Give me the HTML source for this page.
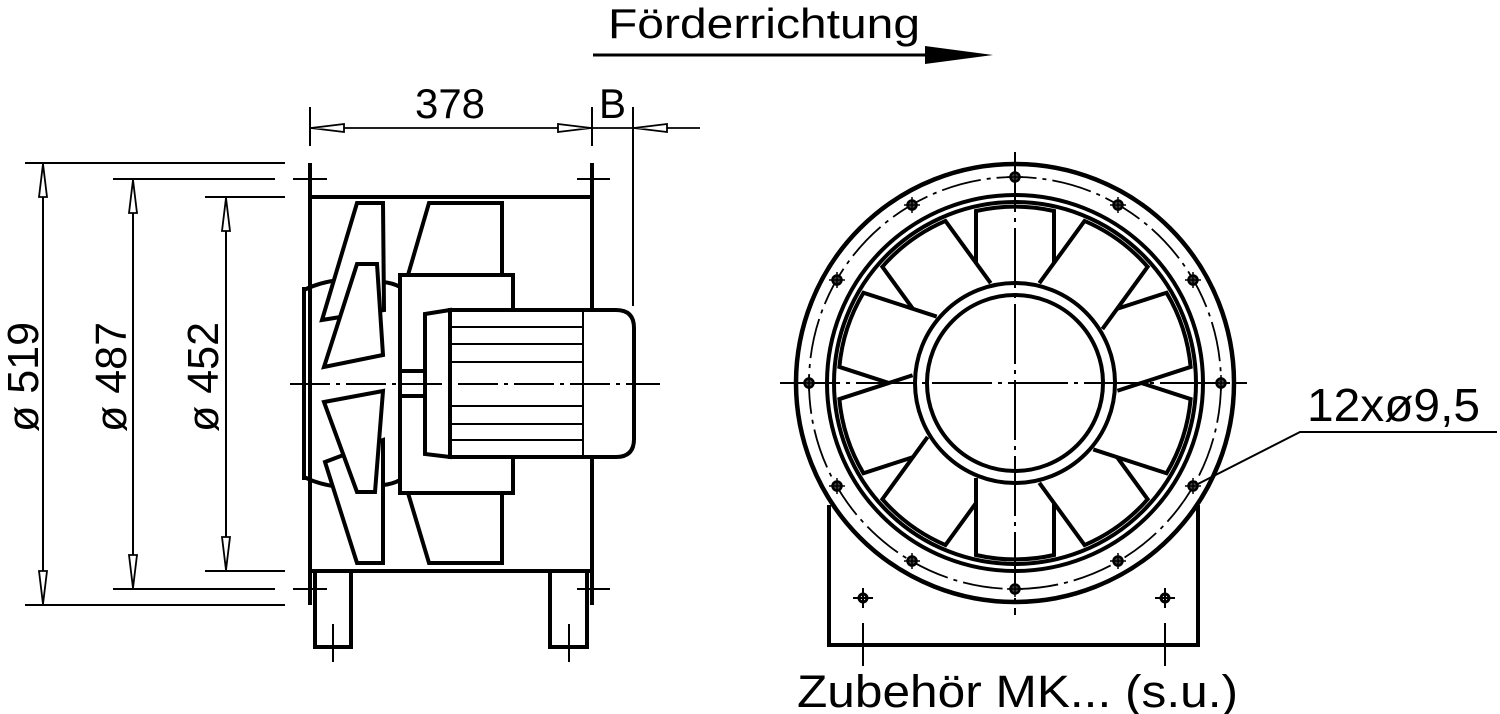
<!DOCTYPE html>
<html><head><meta charset="utf-8"><style>html,body{margin:0;padding:0;background:#fff}svg{display:block}</style></head>
<body>
<svg width="1500" height="714" viewBox="0 0 1500 714" xmlns="http://www.w3.org/2000/svg" font-family="Liberation Sans, sans-serif">
<g fill="none" stroke="#000">
<line x1="593" y1="55" x2="930" y2="55" stroke-width="3"/>
<path d="M925,46 L993,55 L925,64 Z" fill="#000" stroke="none"/>

<g stroke-width="2">
<line x1="310" y1="107" x2="310" y2="146"/>
<line x1="592" y1="107" x2="592" y2="146"/>
<line x1="633" y1="107" x2="633" y2="306"/>
<line x1="310" y1="128" x2="700" y2="128" stroke-width="1.8"/>
</g>
<path d="M311,128 L344,124 L344,132 Z M591,128 L558,124 L558,132 Z M634,128 L667,124 L667,132 Z" fill="#fff" stroke="#000" stroke-width="1.8"/>

<g stroke-width="2">
<line x1="25" y1="163" x2="285" y2="163"/>
<line x1="25" y1="605" x2="285" y2="605"/>
<line x1="113" y1="179" x2="275" y2="179"/>
<line x1="113" y1="589" x2="275" y2="589"/>
<line x1="205" y1="197" x2="285" y2="197"/>
<line x1="205" y1="571" x2="285" y2="571"/>
<line x1="43" y1="163" x2="43" y2="605"/>
<line x1="133" y1="179" x2="133" y2="589"/>
<line x1="226" y1="197" x2="226" y2="571"/>
</g>
<path d="M43,164 L39,197 L47,197 Z M43,604 L39,571 L47,571 Z M133,180 L129,213 L137,213 Z M133,588 L129,555 L137,555 Z M226,198 L222,231 L230,231 Z M226,570 L222,537 L230,537 Z" fill="#fff" stroke="#000" stroke-width="1.8"/>

<g stroke-width="2">
<line x1="293" y1="179" x2="327" y2="179"/><line x1="577" y1="179" x2="610" y2="179"/>
<line x1="293" y1="589" x2="327" y2="589"/><line x1="577" y1="589" x2="610" y2="589"/>
<line x1="333" y1="624" x2="333" y2="662"/><line x1="569" y1="624" x2="569" y2="662"/>
</g>
<g stroke-width="4" stroke-linejoin="miter">
<line x1="310" y1="163" x2="310" y2="605"/>
<line x1="592" y1="163" x2="592" y2="605"/>
<line x1="310" y1="197" x2="592" y2="197"/>
<line x1="310" y1="571" x2="592" y2="571"/>
<path d="M315,571 V647 H351 V571"/>
<path d="M550,571 V647 H587 V571"/>
<path d="M304,287 V480" fill="none"/>
<path d="M304,290 Q320,282 340,280"/><path d="M383,282 Q393,283 400,287"/>
<path d="M304,477 Q320,485 340,487"/><path d="M383,485 Q393,484 400,480"/>
<path d="M357,203 L383,203 L384,310 L322,320 Z" fill="#fff"/>
<path d="M357,264 L377,264 L383,355 L324,367 Z" fill="#fff"/>
<path d="M325,462 L383,440 L383,563 L357,563 Z" fill="#fff"/>
<path d="M324,402 L383,391 L375,492 L357,492 Z" fill="#fff"/>
<path d="M408,275 L429,203 L502,203 L502,275" fill="#fff"/>
<path d="M408,493 L429,563 L502,563 L502,493" fill="#fff"/>
<rect x="400" y="275" width="113" height="218" fill="#fff"/>
<rect x="400" y="371" width="25" height="25"/>
<path d="M425,314 L450,310 L450,457 L425,454 Z" fill="#fff"/>
<path d="M450,310 H616 Q634,310 634,328 V439 Q634,457 616,457 H450 Z" fill="#fff"/>
</g>
<g stroke-width="2">
<line x1="583" y1="310" x2="583" y2="457"/>
<line x1="450" y1="327" x2="583" y2="327"/><line x1="450" y1="344" x2="583" y2="344"/>
<line x1="450" y1="362" x2="583" y2="362"/><line x1="450" y1="406" x2="583" y2="406"/>
<line x1="450" y1="424" x2="583" y2="424"/><line x1="450" y1="440" x2="583" y2="440"/>
<line x1="290" y1="384" x2="660" y2="384" stroke-dasharray="40,6,4,6"/>
</g>

<path d="M829,505 V645 H1198 V505" stroke-width="4"/>
<circle cx="1015" cy="383" r="219" stroke-width="4.5" fill="#fff"/>
<circle cx="1015" cy="383" r="206" stroke-width="1.8" stroke-dasharray="40,6,4,6"/>
<circle cx="1015" cy="383" r="188" stroke-width="4"/>
<circle cx="1015" cy="383" r="181" stroke-width="4"/>
<g stroke-width="4" fill="#fff" transform="translate(1015,383)">
<g id="bl"><path d="M-39,-95 V-172 A176,176 0 0 1 39,-172 V-95"/></g>
<use href="#bl" transform="rotate(324)"/>
<use href="#bl" transform="rotate(288)"/>
<use href="#bl" transform="rotate(252)"/>
<use href="#bl" transform="rotate(216)"/>
<use href="#bl" transform="rotate(180)"/>
<use href="#bl" transform="rotate(144)"/>
<use href="#bl" transform="rotate(108)"/>
<use href="#bl" transform="rotate(72)"/>
<use href="#bl" transform="rotate(36)"/>
<circle r="100"/>
<circle r="88"/>
</g>
<g stroke-width="2">
<line x1="1015" y1="152" x2="1015" y2="615" stroke-dasharray="60,6,4,6"/>
<line x1="780" y1="383" x2="1247" y2="383" stroke-dasharray="60,6,4,6"/>
<line x1="863" y1="623" x2="863" y2="666"/><line x1="1165" y1="623" x2="1165" y2="666"/>
<line x1="853" y1="598" x2="873" y2="598"/><line x1="863" y1="588" x2="863" y2="608"/>
<line x1="1155" y1="598" x2="1175" y2="598"/><line x1="1165" y1="588" x2="1165" y2="608"/>
<polyline points="1192,487 1300,432 1497,432"/>
</g>
<circle cx="863" cy="598" r="4" stroke-width="3"/><circle cx="1165" cy="598" r="4" stroke-width="3"/>
<g stroke-width="2.5" fill="#444">
<circle cx="1221" cy="383" r="4.5"/><circle cx="1193" cy="486" r="4.5"/><circle cx="1118" cy="561" r="4.5"/>
<circle cx="1015" cy="589" r="4.5"/><circle cx="912" cy="561" r="4.5"/><circle cx="837" cy="486" r="4.5"/>
<circle cx="809" cy="383" r="4.5"/><circle cx="837" cy="280" r="4.5"/><circle cx="912" cy="205" r="4.5"/>
<circle cx="1015" cy="177" r="4.5"/><circle cx="1118" cy="205" r="4.5"/><circle cx="1193" cy="280" r="4.5"/>
</g>
<g stroke-width="1.5">
<path d="M1221,375v16M1213,383h16 M1015,169v16M1007,177h16 M1015,581v16M1007,589h16 M809,375v16M801,383h16"/>
<path d="M1193,478v16M1185,486h16 M1118,553v16M1110,561h16 M912,553v16M904,561h16 M837,478v16M829,486h16"/>
<path d="M837,272v16M829,280h16 M912,197v16M904,205h16 M1118,197v16M1110,205h16 M1193,272v16M1185,280h16"/>
</g>
</g>

<g fill="#000" font-size="44">
<text x="608" y="38" textLength="312" lengthAdjust="spacingAndGlyphs" font-size="42">Förderrichtung</text>
<text x="415" y="118" textLength="70" lengthAdjust="spacingAndGlyphs" font-size="42">378</text>
<text x="599" y="118" textLength="27" lengthAdjust="spacingAndGlyphs" font-size="42">B</text>
<text transform="translate(38,432) rotate(-90)" textLength="110" lengthAdjust="spacingAndGlyphs" font-size="44">ø 519</text>
<text transform="translate(126,432) rotate(-90)" textLength="110" lengthAdjust="spacingAndGlyphs" font-size="44">ø 487</text>
<text transform="translate(218,432) rotate(-90)" textLength="110" lengthAdjust="spacingAndGlyphs" font-size="44">ø 452</text>
<text x="1307" y="421" textLength="173" lengthAdjust="spacingAndGlyphs" font-size="46">12xø9,5</text>
<text x="797" y="707" textLength="441" lengthAdjust="spacingAndGlyphs" font-size="45">Zubehör MK... (s.u.)</text>
</g>
</svg>
</body></html>
